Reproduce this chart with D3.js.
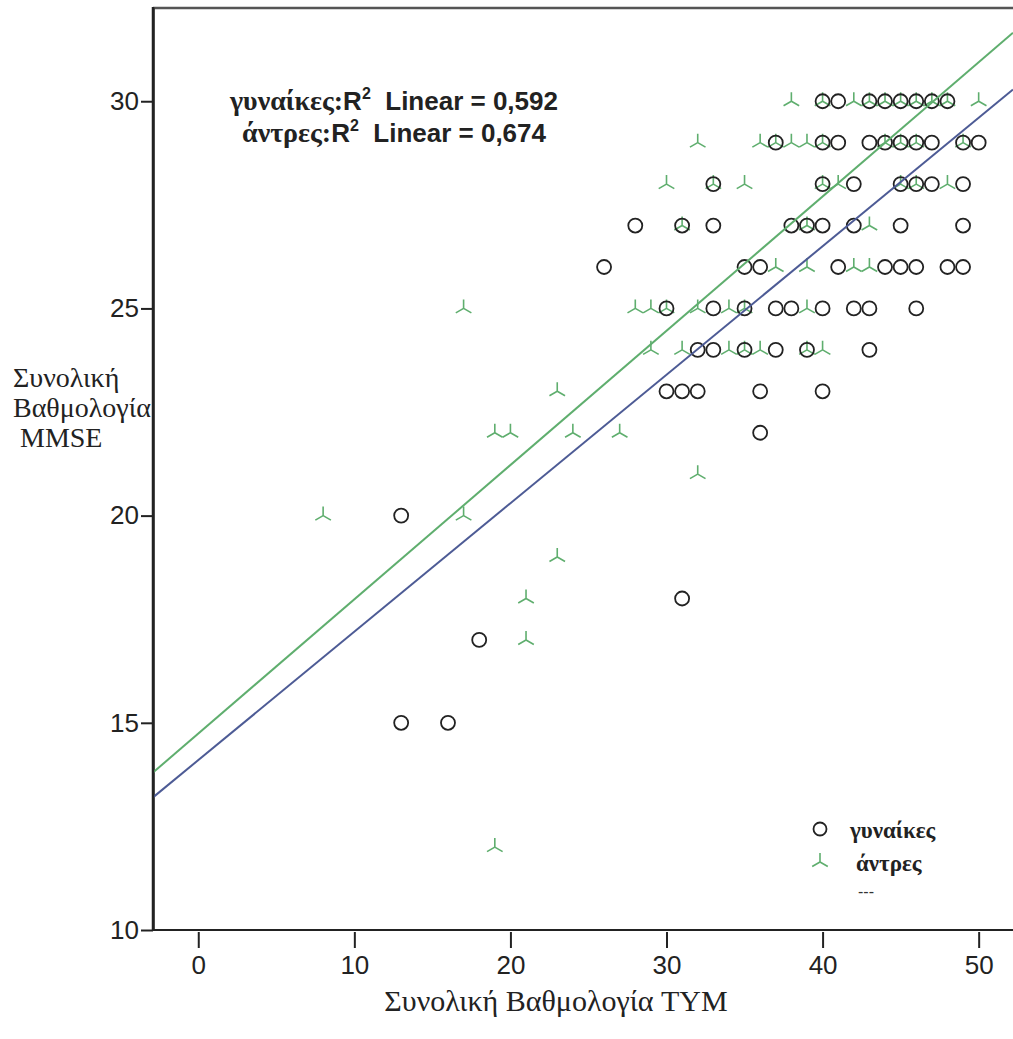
<!DOCTYPE html>
<html>
<head>
<meta charset="utf-8">
<script src="https://cdn.jsdelivr.net/npm/d3@7"></script>
<style>
  body { margin: 0; background: #fff; }
</style>
</head>
<body>
<div id="chart"></div>
<script>
// scatter data: TYM score (x) and MMSE score (y), one pair per person
var womenTYM = [40, 41, 43, 44, 45, 46, 47, 48,
  37, 40, 41, 43, 44, 45, 46, 47, 49, 50,
  33, 40, 42, 45, 46, 47, 49,
  28, 31, 33, 38, 39, 40, 42, 45, 49,
  26, 35, 36, 41, 44, 45, 46, 48, 49,
  30, 33, 35, 37, 38, 40, 42, 43, 46,
  32, 33, 35, 37, 39, 43,
  30, 31, 32, 36, 40,
  36, 13, 31, 18, 13, 16];
var womenMMSE = [30, 30, 30, 30, 30, 30, 30, 30,
  29, 29, 29, 29, 29, 29, 29, 29, 29, 29,
  28, 28, 28, 28, 28, 28, 28,
  27, 27, 27, 27, 27, 27, 27, 27, 27,
  26, 26, 26, 26, 26, 26, 26, 26, 26,
  25, 25, 25, 25, 25, 25, 25, 25, 25,
  24, 24, 24, 24, 24, 24,
  23, 23, 23, 23, 23,
  22, 20, 18, 17, 15, 15];

var menTYM = [38, 40, 42, 43, 44, 45, 46, 47, 48, 50,
  32, 36, 37, 38, 39, 40, 44, 45, 46, 49,
  30, 33, 35, 40, 41, 45, 46, 48,
  31, 39, 43,
  37, 39, 42, 43,
  17, 28, 29, 30, 32, 34, 35, 39,
  29, 31, 34, 35, 36, 39, 40,
  23, 19, 20, 24, 27, 32, 8, 17, 23, 21, 21, 19];
var menMMSE = [30, 30, 30, 30, 30, 30, 30, 30, 30, 30,
  29, 29, 29, 29, 29, 29, 29, 29, 29, 29,
  28, 28, 28, 28, 28, 28, 28, 28,
  27, 27, 27,
  26, 26, 26, 26,
  25, 25, 25, 25, 25, 25, 25, 25,
  24, 24, 24, 24, 24, 24, 24,
  23, 22, 22, 22, 22, 21, 20, 20, 19, 18, 17, 12];

// fit lines (intercept, slope)
var fitWomen = [14.1, 0.310];
var fitMen = [14.74, 0.324];

var xTicks = [0, 10, 20, 30, 40, 50];
var yTicks = [10, 15, 20, 25, 30];

var width = 1013, height = 1039;
var plotLeft = 153, plotRight = 1013, plotTop = 8, plotBottom = 930;

var svg = d3.select("#chart")
  .append("svg")
  .attr("width", width)
  .attr("height", height);

var x = d3.scaleLinear().domain([-2.9, 52.2]).range([plotLeft, plotRight]);
var y = d3.scaleLinear().domain([10, 32.25]).range([plotBottom, plotTop]);

var green = "#5fae6e", blue = "#4d5b95";

// frame
svg.append("line").attr("x1", plotLeft).attr("x2", width).attr("y1", plotTop).attr("y2", plotTop)
  .attr("stroke", "#555").attr("stroke-width", 2.5);
svg.append("line").attr("x1", plotLeft).attr("x2", width).attr("y1", plotBottom).attr("y2", plotBottom)
  .attr("stroke", "#222").attr("stroke-width", 2);

// axes
var yAxis = svg.append("g")
  .attr("transform", "translate(" + plotLeft + ",0)")
  .call(d3.axisLeft(y).tickValues(yTicks).tickSize(12).tickPadding(2).tickSizeOuter(0));
var xAxis = svg.append("g")
  .attr("transform", "translate(0," + (plotBottom + 2) + ")")
  .call(d3.axisBottom(x).tickValues(xTicks).tickSize(16).tickPadding(8).tickSizeOuter(0));
xAxis.select(".domain").remove();

[xAxis, yAxis].forEach(function (g) {
  g.selectAll("line").attr("stroke", "#222").attr("stroke-width", 2);
  g.select(".domain").attr("stroke", "#222").attr("stroke-width", 2.5);
  g.selectAll("text")
    .style("font-family", "'Liberation Sans', Arial, sans-serif")
    .style("font-size", "26px")
    .attr("fill", "#222");
});

// men markers (three-armed)
var tri = "M0,0L0,-9M0,0L7.8,4.5M0,0L-7.8,4.5";
svg.append("g")
  .selectAll("path")
  .data(menTYM)
  .enter().append("path")
  .attr("d", tri)
  .attr("transform", function (d, i) { return "translate(" + x(d) + "," + y(menMMSE[i]) + ")"; })
  .attr("fill", "none")
  .attr("stroke", green)
  .attr("stroke-width", 1.6);

// women markers (circles)
svg.append("g")
  .selectAll("circle")
  .data(womenTYM)
  .enter().append("circle")
  .attr("cx", function (d) { return x(d); })
  .attr("cy", function (d, i) { return y(womenMMSE[i]); })
  .attr("r", 7)
  .attr("fill", "none")
  .attr("stroke", "#222")
  .attr("stroke-width", 1.8);

// fit lines
var xd = x.domain();
[[fitMen, green], [fitWomen, blue]].forEach(function (f) {
  svg.append("line")
    .attr("x1", x(xd[0])).attr("y1", y(f[0][0] + f[0][1] * xd[0]))
    .attr("x2", x(xd[1])).attr("y2", y(f[0][0] + f[0][1] * xd[1]))
    .attr("stroke", f[1])
    .attr("stroke-width", 2);
});

// left axis line on top
svg.append("line").attr("x1", plotLeft).attr("x2", plotLeft).attr("y1", plotTop - 1).attr("y2", plotBottom + 1)
  .attr("stroke", "#222").attr("stroke-width", 2.5);

// R2 annotation
var serif = "'Liberation Serif', 'Times New Roman', serif";
var sans = "'Liberation Sans', Arial, sans-serif";
function r2Line(yPos, label, value) {
  var t = svg.append("text")
    .attr("x", 394).attr("y", yPos)
    .attr("text-anchor", "middle")
    .style("font-weight", "bold")
    .attr("fill", "#222");
  t.append("tspan").style("font-family", serif).style("font-size", "28px").text(label + ":");
  t.append("tspan").style("font-family", sans).style("font-size", "26px").text("R");
  t.append("tspan").style("font-family", sans).style("font-size", "16px").attr("dy", -11).text("2");
  t.append("tspan").style("font-family", sans).style("font-size", "26px").attr("dy", 11)
    .attr("xml:space", "preserve").text("  Linear = " + value);
}
r2Line(110, "γυναίκες", "0,592");
r2Line(142, "άντρες", "0,674");

// axis titles
svg.append("text")
  .attr("x", 556).attr("y", 1011)
  .attr("text-anchor", "middle")
  .style("font-family", serif).style("font-size", "30px")
  .attr("fill", "#222")
  .text("Συνολική Βαθμολογία TYM");

var yTitle = ["Συνολική", "Βαθμολογία", " MMSE"];
svg.append("g").selectAll("text")
  .data(yTitle)
  .enter().append("text")
  .attr("x", 13)
  .attr("y", function (d, i) { return 387 + i * 30; })
  .attr("xml:space", "preserve")
  .style("font-family", serif).style("font-size", "28px")
  .attr("fill", "#222")
  .text(function (d) { return d; });

// legend
svg.append("circle").attr("cx", 820).attr("cy", 829).attr("r", 6.5)
  .attr("fill", "none").attr("stroke", "#222").attr("stroke-width", 1.8);
svg.append("path").attr("d", tri).attr("transform", "translate(820,862)")
  .attr("fill", "none").attr("stroke", green).attr("stroke-width", 1.6);
svg.append("text").attr("x", 850).attr("y", 838)
  .style("font-family", serif).style("font-size", "23px").style("font-weight", "bold")
  .attr("fill", "#222").text("γυναίκες");
svg.append("text").attr("x", 856).attr("y", 871)
  .style("font-family", serif).style("font-size", "23px").style("font-weight", "bold")
  .attr("fill", "#222").text("άντρες");
svg.append("text").attr("x", 858).attr("y", 897)
  .style("font-family", sans).style("font-size", "16px")
  .attr("fill", "#333").text("---");
</script>
</body>
</html>
